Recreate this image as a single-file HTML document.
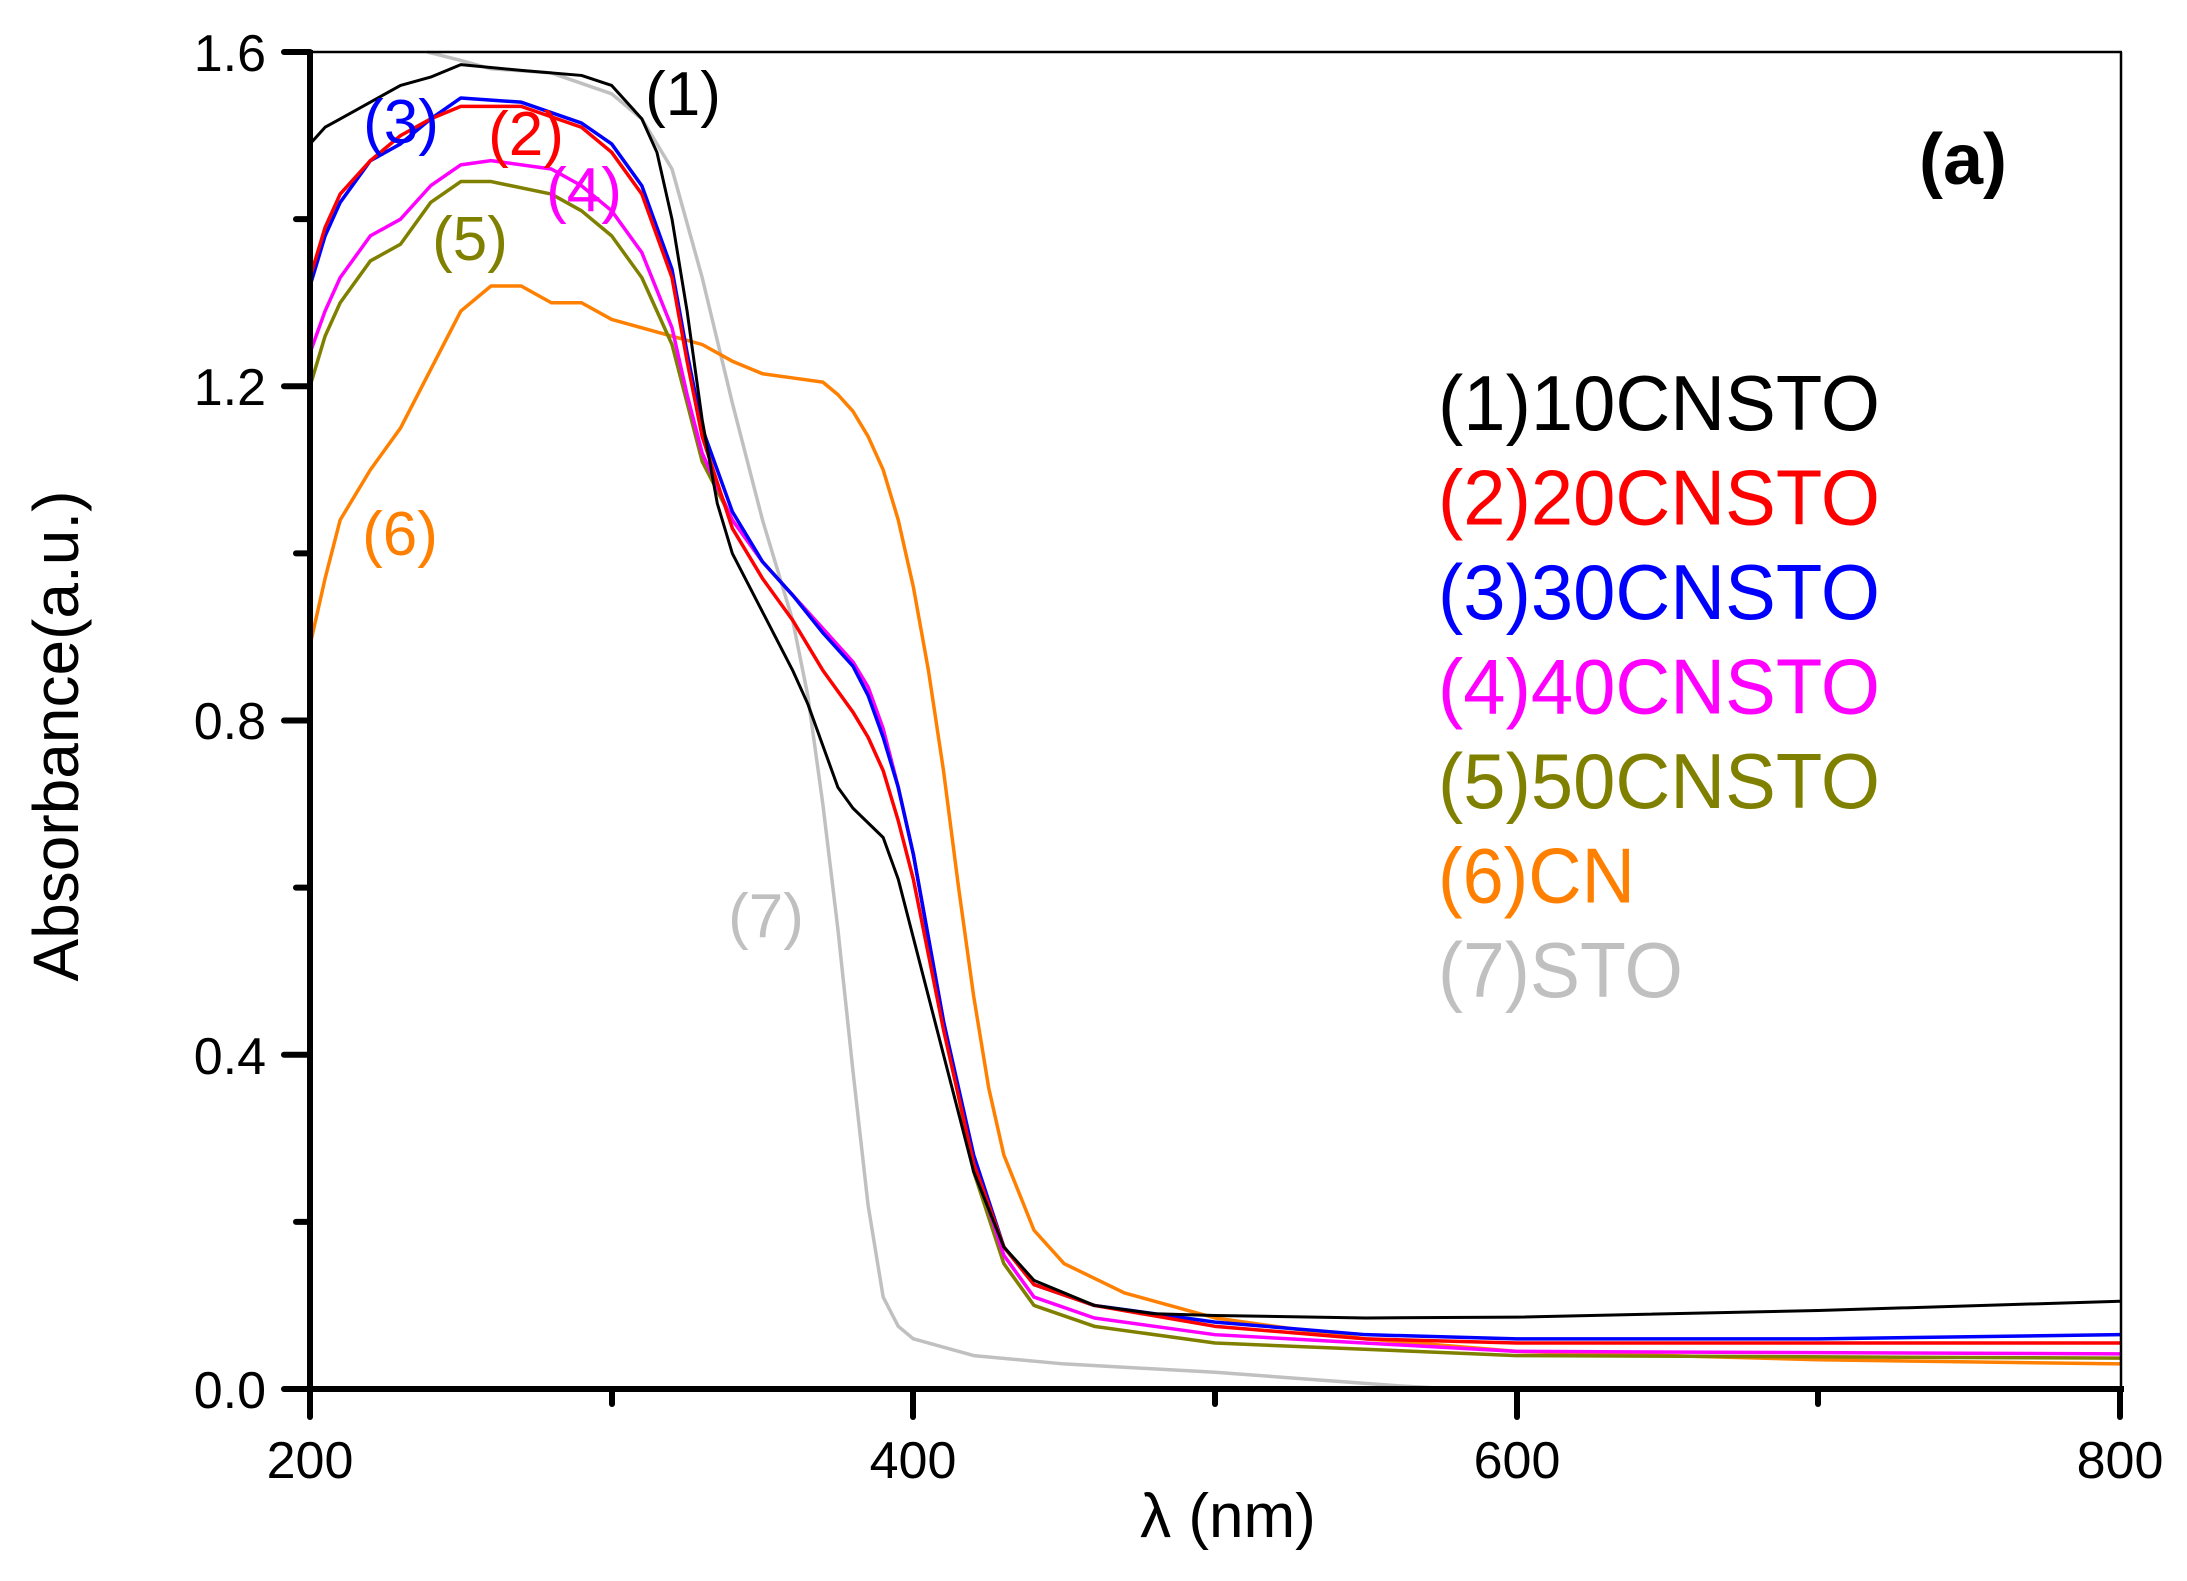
<!DOCTYPE html>
<html><head><meta charset="utf-8"><style>
html,body{margin:0;padding:0;background:#fff}
svg{display:block}
text{font-family:"Liberation Sans",Arial,sans-serif}
</style></head><body>
<svg width="2187" height="1581" viewBox="0 0 2187 1581" xmlns="http://www.w3.org/2000/svg">
<rect width="2187" height="1581" fill="#fff"/>
<g fill="none" stroke-linejoin="round" transform="translate(310,1389) scale(3.0167,-835.6) translate(-200,0)">
<polyline vector-effect="non-scaling-stroke" stroke="#c0c0c0" stroke-width="3.5" points="239,1.6 250,1.59 260,1.58 280,1.575 300,1.55 310,1.52 320,1.46 330,1.33 340,1.18 350,1.04 360,0.92 365,0.83 370,0.70 375,0.55 380,0.38 385,0.22 390,0.11 395,0.075 400,0.06 420,0.04 450,0.03 500,0.02 530,0.012 560,0.004 580,0 800,0"/>
<polyline vector-effect="non-scaling-stroke" stroke="#ff8000" stroke-width="3.5" points="200,0.89 205,0.97 210,1.04 220,1.10 230,1.15 240,1.22 250,1.29 260,1.32 270,1.32 280,1.30 290,1.30 300,1.28 310,1.27 320,1.26 330,1.25 340,1.23 350,1.215 360,1.21 370,1.205 375,1.19 380,1.17 385,1.14 390,1.10 395,1.04 400,0.96 405,0.86 410,0.74 415,0.60 420,0.47 425,0.36 430,0.28 440,0.19 450,0.15 470,0.115 500,0.085 550,0.06 600,0.045 700,0.035 800,0.03"/>
<polyline vector-effect="non-scaling-stroke" stroke="#808000" stroke-width="3.5" points="200,1.2 205,1.26 210,1.30 220,1.35 230,1.37 240,1.42 250,1.445 260,1.445 280,1.43 290,1.41 300,1.38 310,1.33 320,1.25 325,1.18 330,1.11 340,1.04 350,0.99 360,0.95 370,0.91 380,0.87 385,0.84 390,0.79 395,0.72 400,0.64 405,0.54 410,0.44 420,0.26 430,0.15 440,0.10 460,0.075 500,0.055 600,0.04 800,0.037"/>
<polyline vector-effect="non-scaling-stroke" stroke="#ff00ff" stroke-width="3.5" points="200,1.24 205,1.29 210,1.33 220,1.38 230,1.40 240,1.44 250,1.465 260,1.47 280,1.46 290,1.44 300,1.41 310,1.36 320,1.27 325,1.19 330,1.12 340,1.04 350,0.99 360,0.95 370,0.91 380,0.87 385,0.84 390,0.79 395,0.72 400,0.64 405,0.54 410,0.44 420,0.27 430,0.16 440,0.11 460,0.085 500,0.065 600,0.045 800,0.042"/>
<polyline vector-effect="non-scaling-stroke" stroke="#0000ff" stroke-width="3.5" points="200,1.32 205,1.38 210,1.42 220,1.47 230,1.49 240,1.52 250,1.545 270,1.54 290,1.515 300,1.49 310,1.44 320,1.34 325,1.24 330,1.15 340,1.05 350,0.99 360,0.95 370,0.905 380,0.865 385,0.83 390,0.78 395,0.72 400,0.64 405,0.54 410,0.44 420,0.28 430,0.17 440,0.125 460,0.10 500,0.08 550,0.065 600,0.06 700,0.06 800,0.065"/>
<polyline vector-effect="non-scaling-stroke" stroke="#ff0000" stroke-width="3.5" points="200,1.33 205,1.39 210,1.43 220,1.47 230,1.50 240,1.52 250,1.535 270,1.535 290,1.51 300,1.48 310,1.43 320,1.33 325,1.23 330,1.14 340,1.03 350,0.97 360,0.92 370,0.86 380,0.81 385,0.78 390,0.74 395,0.68 400,0.61 405,0.52 410,0.43 420,0.27 430,0.17 440,0.125 460,0.10 500,0.075 550,0.06 600,0.055 800,0.055"/>
<polyline vector-effect="non-scaling-stroke" stroke="#000000" stroke-width="3" points="200,1.49 205,1.51 210,1.52 220,1.54 230,1.56 240,1.57 250,1.585 270,1.578 290,1.572 300,1.56 310,1.52 315,1.48 320,1.40 325,1.29 330,1.16 335,1.06 340,1.0 350,0.93 360,0.86 365,0.82 370,0.77 375,0.72 380,0.695 390,0.66 395,0.61 400,0.54 405,0.47 410,0.40 415,0.33 420,0.26 430,0.17 440,0.13 460,0.10 480,0.09 500,0.088 550,0.085 600,0.086 700,0.094 800,0.105"/>
</g>
<line x1="310" y1="52" x2="2122" y2="52" stroke="#000" stroke-width="2.5"/>
<line x1="2121" y1="52" x2="2121" y2="1389" stroke="#000" stroke-width="2.5"/>
<line x1="310" y1="50" x2="310" y2="1392" stroke="#000" stroke-width="6"/>
<line x1="307" y1="1389" x2="2124" y2="1389" stroke="#000" stroke-width="6"/>
<g stroke="#000" stroke-width="6" stroke-linecap="round">
<line x1="310" y1="1389" x2="310" y2="1417"/>
<line x1="913" y1="1389" x2="913" y2="1417"/>
<line x1="1517" y1="1389" x2="1517" y2="1417"/>
<line x1="2120" y1="1389" x2="2120" y2="1417"/>
<line x1="612" y1="1389" x2="612" y2="1404"/>
<line x1="1215" y1="1389" x2="1215" y2="1404"/>
<line x1="1818" y1="1389" x2="1818" y2="1404"/>
<line x1="284" y1="1389" x2="310" y2="1389"/>
<line x1="284" y1="1054.75" x2="310" y2="1054.75"/>
<line x1="284" y1="720.5" x2="310" y2="720.5"/>
<line x1="284" y1="386.25" x2="310" y2="386.25"/>
<line x1="284" y1="52" x2="310" y2="52"/>
<line x1="296" y1="1221.9" x2="310" y2="1221.9"/>
<line x1="296" y1="887.6" x2="310" y2="887.6"/>
<line x1="296" y1="553.4" x2="310" y2="553.4"/>
<line x1="296" y1="219.1" x2="310" y2="219.1"/>
</g>
<g font-size="52" fill="#000" text-anchor="end">
<text x="266" y="1408">0.0</text>
<text x="266" y="1074">0.4</text>
<text x="266" y="739">0.8</text>
<text x="266" y="405">1.2</text>
<text x="266" y="71">1.6</text>
</g>
<g font-size="52" fill="#000" text-anchor="middle">
<text x="310" y="1478">200</text>
<text x="913" y="1478">400</text>
<text x="1517" y="1478">600</text>
<text x="2120" y="1478">800</text>
</g>
<text x="1228" y="1537" font-size="62" text-anchor="middle">λ (nm)</text>
<text transform="translate(78,736) rotate(-90)" font-size="64" text-anchor="middle">Absorbance(a.u.)</text>
<text x="1963" y="184" font-size="72" font-weight="bold" text-anchor="middle">(a)</text>
<g font-size="62" text-anchor="middle">
<text x="683" y="115" fill="#000">(1)</text>
<text x="526" y="155" fill="#ff0000">(2)</text>
<text x="401" y="143" fill="#0000ff">(3)</text>
<text x="584" y="211" fill="#ff00ff">(4)</text>
<text x="470" y="260" fill="#808000">(5)</text>
<text x="400" y="555" fill="#ff8000">(6)</text>
<text x="766" y="937" fill="#c0c0c0">(7)</text>
</g>
<g font-size="78">
<text x="1438" y="430" fill="#000" textLength="442" lengthAdjust="spacingAndGlyphs">(1)10CNSTO</text>
<text x="1438" y="524.5" fill="#ff0000" textLength="442" lengthAdjust="spacingAndGlyphs">(2)20CNSTO</text>
<text x="1438" y="619" fill="#0000ff" textLength="442" lengthAdjust="spacingAndGlyphs">(3)30CNSTO</text>
<text x="1438" y="713.5" fill="#ff00ff" textLength="442" lengthAdjust="spacingAndGlyphs">(4)40CNSTO</text>
<text x="1438" y="808" fill="#808000" textLength="442" lengthAdjust="spacingAndGlyphs">(5)50CNSTO</text>
<text x="1438" y="902.5" fill="#ff8000" textLength="197" lengthAdjust="spacingAndGlyphs">(6)CN</text>
<text x="1438" y="997" fill="#c0c0c0" textLength="245" lengthAdjust="spacingAndGlyphs">(7)STO</text>
</g>
</svg>
</body></html>
